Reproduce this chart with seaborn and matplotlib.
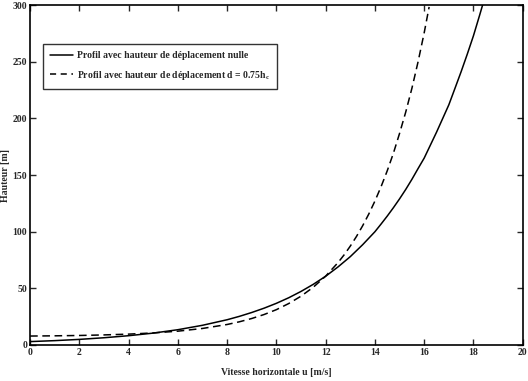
import matplotlib
matplotlib.use("Agg")
import matplotlib.pyplot as plt
import seaborn as sns
import pandas as pd

# Solid: profile with zero displacement height
u_solid = [0, 1, 2, 3, 4, 5, 6, 7, 8, 8.5, 9, 9.5, 10, 10.5, 11, 11.5, 12, 12.5, 13,
           13.5, 14, 14.25, 14.5, 14.75, 15, 15.25, 15.5, 15.75, 16, 16.25, 16.5,
           16.75, 17, 17.25, 17.5, 17.75, 18, 18.25, 18.37]
z_solid = [3.0, 3.85, 4.95, 6.4, 8.2, 10.5, 13.5, 17.4, 22.3, 25.3, 28.7, 32.5, 36.8,
           41.7, 47.3, 53.6, 60.7, 68.9, 78.0, 88.5, 100.0, 106.8, 113.8, 121.2,
           129.0, 137.3, 146.2, 155.7, 165.0, 176.4, 187.8, 199.9, 212.0, 226.6,
           241.3, 256.8, 273.0, 291.1, 300.0]

# Dashed: profile with displacement height d = 0.75 h_c
u_dash = [0, 1, 2, 3, 4, 5, 6, 7, 8, 8.5, 9, 9.5, 10, 10.5, 11, 11.5, 12, 12.5, 12.75,
          13, 13.25, 13.5, 13.75, 14, 14.25, 14.5, 14.75, 15, 15.25, 15.5, 15.75, 16,
          16.2]
z_dash = [7.9, 8.1, 8.4, 8.9, 9.6, 10.65, 12.2, 14.6, 18.1, 20.5, 23.4, 26.9, 31.2,
          36.6, 43.1, 51.05, 60.8, 72.7, 79.6, 87.3, 95.8, 105.2, 115.6, 127.1, 139.8,
          153.8, 169.3, 186.8, 205.6, 226.5, 249.9, 275.6, 298.4]

label_solid = "Profil avec hauteur de déplacement nulle"
label_dash = "Profil avec hauteur de déplacement d = 0.75h$_\\mathregular{c}$"
x_ticks = [0, 2, 4, 6, 8, 10, 12, 14, 16, 18, 20]
y_ticks = [0, 50, 100, 150, 200, 250, 300]

sns.set_style("ticks")
plt.rcParams['font.family'] = ['Liberation Serif', 'DejaVu Serif']
plt.rcParams['font.weight'] = 'bold'
plt.rcParams['mathtext.fontset'] = 'custom'
plt.rcParams['mathtext.rm'] = 'Liberation Serif:bold'
plt.rcParams['mathtext.it'] = 'Liberation Serif:bold'

df_s = pd.DataFrame({"u": u_solid, "z": z_solid})
df_d = pd.DataFrame({"u": u_dash, "z": z_dash})

fig = plt.figure(figsize=(5.28, 3.81), dpi=100)
ax = fig.add_axes([0.057, 0.0945, 0.933, 0.892])

sns.lineplot(data=df_s, x="u", y="z", ax=ax, color="black", lw=1.1,
             sort=False, estimator=None, label=label_solid)
sns.lineplot(data=df_d, x="u", y="z", ax=ax, color="black", lw=1.1,
             sort=False, estimator=None, label=label_dash)
ax.lines[1].set_linestyle((0, (5, 3)))

ax.set_xlim(0, 20)
ax.set_ylim(0, 300)
ax.set_xticks(x_ticks)
ax.set_yticks(y_ticks)
ax.tick_params(direction="in", top=True, right=True, length=4, width=1,
               labelsize=7, pad=2)
for s in ax.spines.values():
    s.set_visible(True)
    s.set_linewidth(1.2)
    s.set_color("black")

ax.set_xlabel("Vitesse horizontale u [m/s]", fontsize=7, fontweight="bold")
ax.set_ylabel("Hauteur [m]", fontsize=7, fontweight="bold")
ax.xaxis.set_label_coords(0.5, -0.068)
ax.yaxis.set_label_coords(-0.041, 0.5)

leg = ax.legend(loc="upper left", bbox_to_anchor=(0.026, 0.885), fontsize=7,
                frameon=True, fancybox=False, edgecolor="black",
                handlelength=2.4, borderaxespad=0, borderpad=0.7,
                labelspacing=0.9, handletextpad=0.4)
leg.get_frame().set_linewidth(1.0)
leg.get_lines()[1].set_linestyle((0, (4, 3)))

fig.savefig("out.png", dpi=100)
